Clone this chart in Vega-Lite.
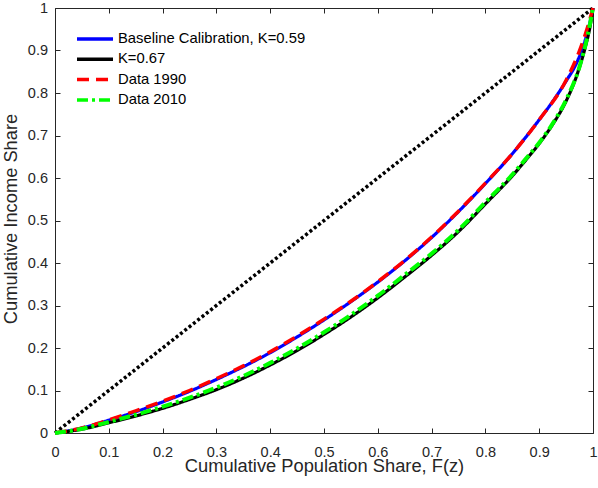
{
  "$schema": "https://vega.github.io/schema/vega-lite/v6.json",
  "width": 538,
  "height": 425,
  "autosize": "none",
  "padding": {"left": 55, "top": 8, "right": 5, "bottom": 55},
  "background": "white",
  "config": {
    "view": {"stroke": null},
    "font": "Liberation Sans",
    "axis": {
      "grid": false,
      "domainColor": "#262626",
      "tickColor": "#262626",
      "labelColor": "#262626",
      "titleColor": "#262626",
      "labelFont": "Liberation Sans",
      "titleFont": "Liberation Sans",
      "labelFontSize": 14.5,
      "titleFontSize": 18.3,
      "titleFontWeight": "normal",
      "tickSize": -5,
      "labelFlush": false,
      "labelOverlap": false,
      "domainWidth": 1,
      "tickWidth": 1
    }
  },
  "datasets": {
    "diag": [{"p": 0, "s": 0}, {"p": 1, "s": 1}],
    "curves": [
      {"series": "Baseline Calibration, K=0.59", "p": 0, "s": 0},
      {"series": "Baseline Calibration, K=0.59", "p": 0.025, "s": 0.005},
      {"series": "Baseline Calibration, K=0.59", "p": 0.05, "s": 0.012},
      {"series": "Baseline Calibration, K=0.59", "p": 0.1, "s": 0.030},
      {"series": "Baseline Calibration, K=0.59", "p": 0.15, "s": 0.050},
      {"series": "Baseline Calibration, K=0.59", "p": 0.2, "s": 0.073},
      {"series": "Baseline Calibration, K=0.59", "p": 0.25, "s": 0.098},
      {"series": "Baseline Calibration, K=0.59", "p": 0.3, "s": 0.126},
      {"series": "Baseline Calibration, K=0.59", "p": 0.35, "s": 0.156},
      {"series": "Baseline Calibration, K=0.59", "p": 0.4, "s": 0.189},
      {"series": "Baseline Calibration, K=0.59", "p": 0.45, "s": 0.226},
      {"series": "Baseline Calibration, K=0.59", "p": 0.5, "s": 0.266},
      {"series": "Baseline Calibration, K=0.59", "p": 0.55, "s": 0.309},
      {"series": "Baseline Calibration, K=0.59", "p": 0.6, "s": 0.355},
      {"series": "Baseline Calibration, K=0.59", "p": 0.65, "s": 0.405},
      {"series": "Baseline Calibration, K=0.59", "p": 0.7, "s": 0.460},
      {"series": "Baseline Calibration, K=0.59", "p": 0.75, "s": 0.521},
      {"series": "Baseline Calibration, K=0.59", "p": 0.8, "s": 0.587},
      {"series": "Baseline Calibration, K=0.59", "p": 0.85, "s": 0.657},
      {"series": "Baseline Calibration, K=0.59", "p": 0.875, "s": 0.696},
      {"series": "Baseline Calibration, K=0.59", "p": 0.9, "s": 0.737},
      {"series": "Baseline Calibration, K=0.59", "p": 0.925, "s": 0.780},
      {"series": "Baseline Calibration, K=0.59", "p": 0.95, "s": 0.828},
      {"series": "Baseline Calibration, K=0.59", "p": 0.97, "s": 0.872},
      {"series": "Baseline Calibration, K=0.59", "p": 0.985, "s": 0.922},
      {"series": "Baseline Calibration, K=0.59", "p": 0.995, "s": 0.970},
      {"series": "Baseline Calibration, K=0.59", "p": 1, "s": 1},
      {"series": "K=0.67", "p": 0, "s": 0},
      {"series": "K=0.67", "p": 0.025, "s": 0.004},
      {"series": "K=0.67", "p": 0.05, "s": 0.009},
      {"series": "K=0.67", "p": 0.1, "s": 0.024},
      {"series": "K=0.67", "p": 0.15, "s": 0.040},
      {"series": "K=0.67", "p": 0.2, "s": 0.058},
      {"series": "K=0.67", "p": 0.25, "s": 0.079},
      {"series": "K=0.67", "p": 0.3, "s": 0.102},
      {"series": "K=0.67", "p": 0.35, "s": 0.129},
      {"series": "K=0.67", "p": 0.4, "s": 0.160},
      {"series": "K=0.67", "p": 0.45, "s": 0.194},
      {"series": "K=0.67", "p": 0.5, "s": 0.232},
      {"series": "K=0.67", "p": 0.55, "s": 0.273},
      {"series": "K=0.67", "p": 0.6, "s": 0.318},
      {"series": "K=0.67", "p": 0.65, "s": 0.367},
      {"series": "K=0.67", "p": 0.7, "s": 0.418},
      {"series": "K=0.67", "p": 0.75, "s": 0.474},
      {"series": "K=0.67", "p": 0.8, "s": 0.539},
      {"series": "K=0.67", "p": 0.85, "s": 0.605},
      {"series": "K=0.67", "p": 0.875, "s": 0.642},
      {"series": "K=0.67", "p": 0.9, "s": 0.681},
      {"series": "K=0.67", "p": 0.925, "s": 0.726},
      {"series": "K=0.67", "p": 0.95, "s": 0.781},
      {"series": "K=0.67", "p": 0.97, "s": 0.842},
      {"series": "K=0.67", "p": 0.985, "s": 0.905},
      {"series": "K=0.67", "p": 0.995, "s": 0.960},
      {"series": "K=0.67", "p": 1, "s": 1},
      {"series": "Data 1990", "p": 0, "s": 0},
      {"series": "Data 1990", "p": 0.05, "s": 0.012},
      {"series": "Data 1990", "p": 0.1, "s": 0.031},
      {"series": "Data 1990", "p": 0.15, "s": 0.052},
      {"series": "Data 1990", "p": 0.2, "s": 0.075},
      {"series": "Data 1990", "p": 0.25, "s": 0.100},
      {"series": "Data 1990", "p": 0.3, "s": 0.128},
      {"series": "Data 1990", "p": 0.35, "s": 0.158},
      {"series": "Data 1990", "p": 0.4, "s": 0.191},
      {"series": "Data 1990", "p": 0.45, "s": 0.228},
      {"series": "Data 1990", "p": 0.5, "s": 0.268},
      {"series": "Data 1990", "p": 0.55, "s": 0.310},
      {"series": "Data 1990", "p": 0.6, "s": 0.356},
      {"series": "Data 1990", "p": 0.65, "s": 0.406},
      {"series": "Data 1990", "p": 0.7, "s": 0.461},
      {"series": "Data 1990", "p": 0.75, "s": 0.522},
      {"series": "Data 1990", "p": 0.8, "s": 0.588},
      {"series": "Data 1990", "p": 0.85, "s": 0.657},
      {"series": "Data 1990", "p": 0.9, "s": 0.737},
      {"series": "Data 1990", "p": 0.95, "s": 0.830},
      {"series": "Data 1990", "p": 0.975, "s": 0.900},
      {"series": "Data 1990", "p": 0.99, "s": 0.955},
      {"series": "Data 1990", "p": 1, "s": 1},
      {"series": "Data 2010", "p": 0, "s": 0},
      {"series": "Data 2010", "p": 0.05, "s": 0.010},
      {"series": "Data 2010", "p": 0.1, "s": 0.026},
      {"series": "Data 2010", "p": 0.15, "s": 0.043},
      {"series": "Data 2010", "p": 0.2, "s": 0.062},
      {"series": "Data 2010", "p": 0.25, "s": 0.083},
      {"series": "Data 2010", "p": 0.3, "s": 0.107},
      {"series": "Data 2010", "p": 0.35, "s": 0.134},
      {"series": "Data 2010", "p": 0.4, "s": 0.165},
      {"series": "Data 2010", "p": 0.45, "s": 0.199},
      {"series": "Data 2010", "p": 0.5, "s": 0.237},
      {"series": "Data 2010", "p": 0.55, "s": 0.278},
      {"series": "Data 2010", "p": 0.6, "s": 0.323},
      {"series": "Data 2010", "p": 0.65, "s": 0.372},
      {"series": "Data 2010", "p": 0.7, "s": 0.422},
      {"series": "Data 2010", "p": 0.75, "s": 0.478},
      {"series": "Data 2010", "p": 0.8, "s": 0.543},
      {"series": "Data 2010", "p": 0.85, "s": 0.608},
      {"series": "Data 2010", "p": 0.875, "s": 0.645},
      {"series": "Data 2010", "p": 0.9, "s": 0.683},
      {"series": "Data 2010", "p": 0.925, "s": 0.728},
      {"series": "Data 2010", "p": 0.95, "s": 0.784},
      {"series": "Data 2010", "p": 0.975, "s": 0.862},
      {"series": "Data 2010", "p": 0.99, "s": 0.935},
      {"series": "Data 2010", "p": 1, "s": 1}
    ]
  },
  "layer": [
    {
      "data": {"name": "diag"},
      "mark": {"type": "line", "color": "black", "strokeWidth": 3.5, "strokeDash": [3, 2.5], "strokeCap": "butt"},
      "encoding": {
        "x": {"field": "p", "type": "quantitative", "scale": {"domain": [0, 1], "nice": false, "zero": false},
          "axis": {"orient": "bottom", "values": [0, 0.1, 0.2, 0.3, 0.4, 0.5, 0.6, 0.7, 0.8, 0.9, 1], "format": "~g", "title": "Cumulative Population Share, F(z)", "labelPadding": 17.5, "titleY": 38.5, "titleBaseline": "alphabetic"}},
        "y": {"field": "s", "type": "quantitative", "scale": {"domain": [0, 1], "nice": false, "zero": false},
          "axis": {"orient": "left", "values": [0, 0.1, 0.2, 0.3, 0.4, 0.5, 0.6, 0.7, 0.8, 0.9, 1], "format": "~g", "title": "Cumulative Income Share", "labelPadding": 12.5, "titleX": -39, "titleY": 210.5, "titleBaseline": "alphabetic", "titleAlign": "center", "titleAngle": -90}}
      }
    },
    {
      "data": {"name": "curves"},
      "transform": [{"filter": "datum.series === 'Baseline Calibration, K=0.59'"}],
      "mark": {"type": "line", "strokeWidth": 3.2, "interpolate": "monotone"},
      "encoding": {
        "x": {"field": "p", "type": "quantitative", "axis": {"orient": "top", "values": [0, 0.1, 0.2, 0.3, 0.4, 0.5, 0.6, 0.7, 0.8, 0.9, 1], "labels": false, "title": null}},
        "y": {"field": "s", "type": "quantitative", "axis": {"orient": "right", "values": [0, 0.1, 0.2, 0.3, 0.4, 0.5, 0.6, 0.7, 0.8, 0.9, 1], "labels": false, "title": null}},
        "color": {"field": "series", "type": "nominal", "scale": {"domain": ["Baseline Calibration, K=0.59", "K=0.67", "Data 1990", "Data 2010"], "range": ["#0000ff", "#000000", "#ff0000", "#00ff00"]},
          "legend": {"title": null, "orient": "none", "legendX": 32, "legendY": 23, "symbolType": "M-3,0H3", "symbolSize": 144, "symbolStrokeWidth": 3.5, "labelFontSize": 14.8, "labelFont": "Liberation Sans", "labelColor": "#000000", "labelOffset": 15, "labelLimit": 400, "rowPadding": 5.3, "padding": 0}},
        "strokeDash": {"field": "series", "type": "nominal", "scale": {"domain": ["Baseline Calibration, K=0.59", "K=0.67", "Data 1990", "Data 2010"], "range": [[1, 0], [1, 0], [12, 7], [11, 4, 3, 4]]},
          "legend": {"title": null, "orient": "none", "legendX": 32, "legendY": 23, "symbolType": "M-3,0H3", "symbolSize": 144, "symbolStrokeWidth": 3.5, "labelFontSize": 14.8, "labelFont": "Liberation Sans", "labelColor": "#000000", "labelOffset": 15, "labelLimit": 400, "rowPadding": 5.3, "padding": 0}}
      }
    },
    {
      "data": {"name": "curves"},
      "transform": [{"filter": "datum.series === 'K=0.67'"}],
      "mark": {"type": "line", "strokeWidth": 3.2, "interpolate": "monotone"},
      "encoding": {
        "x": {"field": "p", "type": "quantitative", "axis": null},
        "y": {"field": "s", "type": "quantitative", "axis": null},
        "color": {"field": "series", "type": "nominal"},
        "strokeDash": {"field": "series", "type": "nominal"}
      }
    },
    {
      "data": {"name": "curves"},
      "transform": [{"filter": "datum.series === 'Data 1990'"}],
      "mark": {"type": "line", "strokeWidth": 3.5, "interpolate": "monotone", "strokeCap": "butt"},
      "encoding": {
        "x": {"field": "p", "type": "quantitative", "axis": null},
        "y": {"field": "s", "type": "quantitative", "axis": null},
        "color": {"field": "series", "type": "nominal"},
        "strokeDash": {"field": "series", "type": "nominal"}
      }
    },
    {
      "data": {"name": "curves"},
      "transform": [{"filter": "datum.series === 'Data 2010'"}],
      "mark": {"type": "line", "strokeWidth": 4, "interpolate": "monotone", "strokeCap": "butt"},
      "encoding": {
        "x": {"field": "p", "type": "quantitative", "axis": null},
        "y": {"field": "s", "type": "quantitative", "axis": null},
        "color": {"field": "series", "type": "nominal"},
        "strokeDash": {"field": "series", "type": "nominal"}
      }
    }
  ],
  "resolve": {"axis": {"x": "independent", "y": "independent"}}
}
